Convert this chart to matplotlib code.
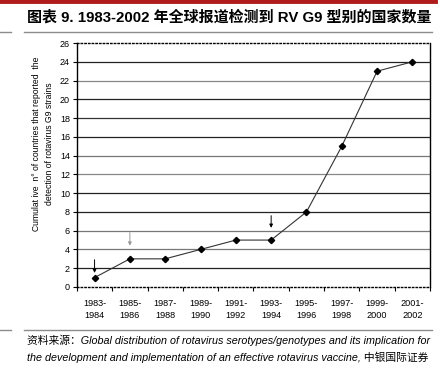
import matplotlib.pyplot as plt
from matplotlib.lines import Line2D

periods = ["1983-\n1984", "1985-\n1986", "1987-\n1988", "1989-\n1990", "1991-\n1992",
           "1993-\n1994", "1995-\n1996", "1997-\n1998", "1999-\n2000", "2001-\n2002"]
countries = [1, 3, 3, 4, 5, 5, 8, 15, 23, 24]
y_ticks = list(range(0, 27, 2))
# arrows: (category index, start value, end value)
arrows = [(0, 2.9, 1.5), (1, 5.8, 4.4), (5, 7.6, 6.3)]

title = "图表 9. 1983-2002 年全球报道检测到 RV G9 型别的国家数量"
src1 = "资料来源：Global distribution of rotavirus serotypes/genotypes and its implication for"
src2 = "the development and implementation of an effective rotavirus vaccine, 中银国际证券"

fam = ["Liberation Sans", "Noto Sans CJK SC", "DejaVu Sans"]
plt.rcParams["font.family"] = fam

fig = plt.figure(figsize=(4.42, 3.73), dpi=100)
ax = fig.add_axes([0.174, 0.2306, 0.799, 0.654])

# decorative lines
fig.add_artist(Line2D([0, 0.985], [0.997, 0.997], color="#b01c1c", lw=3.5))
fig.add_artist(Line2D([0.055, 0.978], [0.914, 0.914], color="#8c8c8c", lw=1.0))
fig.add_artist(Line2D([0, 0.025], [0.914, 0.914], color="#8c8c8c", lw=1.0))
fig.add_artist(Line2D([0.055, 0.978], [0.115, 0.115], color="#8c8c8c", lw=1.0))
fig.add_artist(Line2D([0, 0.025], [0.115, 0.115], color="#8c8c8c", lw=1.0))

fig.text(0.06, 0.953, title, fontsize=10.8, fontweight="bold", va="center", ha="left")
fig.text(0.062, 0.087, src1, fontsize=7.75, style="italic", va="center", ha="left")
fig.text(0.062, 0.042, src2, fontsize=7.75, style="italic", va="center", ha="left")

x = list(range(len(periods)))

# gridlines (scanned look: some darker than others)
shades = ["#222", "#777", "#777", "#222", "#222", "#888", "#777", "#222", "#333", "#222", "#888", "#222"]
for v, c in zip(y_ticks[1:-1], shades):
    ax.axhline(v, color=c, lw=0.9, zorder=1)

ax.plot(x, countries, color="#333333", lw=0.8, zorder=3)
ax.plot(x, countries, "D", color="black", ms=3.2, zorder=4)

for i, y0, y1 in arrows:
    col = "#999999" if i == 1 else "black"
    ax.annotate("", xy=(i, y1), xytext=(i, y0),
                arrowprops=dict(arrowstyle="-|>", color=col, lw=0.7, mutation_scale=5,
                                shrinkA=0, shrinkB=0))

ax.set_xlim(-0.5, len(periods) - 0.5)
ax.set_ylim(0, 26)
ax.set_yticks(y_ticks)
ax.set_xticks(x)
ax.set_xticklabels(periods, fontsize=6.6, linespacing=1.3)
ax.set_xticks([i - 0.5 for i in range(len(periods) + 1)], minor=True)
ax.tick_params(axis="x", which="major", length=0, pad=9)
ax.tick_params(axis="x", which="minor", length=3, width=0.8, direction="out")
ax.tick_params(axis="y", labelsize=6.5, length=3, width=0.8, pad=2)

ax.spines["top"].set_linestyle(":")
ax.spines["bottom"].set_linestyle(":")
for s in ax.spines.values():
    s.set_linewidth(1.0)
    s.set_color("black")

fig.text(0.097, 0.615, "Cumulat ive  n° of countries that reported  the\ndetection of rotavirus G9 strains",
         rotation=90, fontsize=6.2, ha="center", va="center", linespacing=1.6)

fig.savefig("out.png", dpi=100)
